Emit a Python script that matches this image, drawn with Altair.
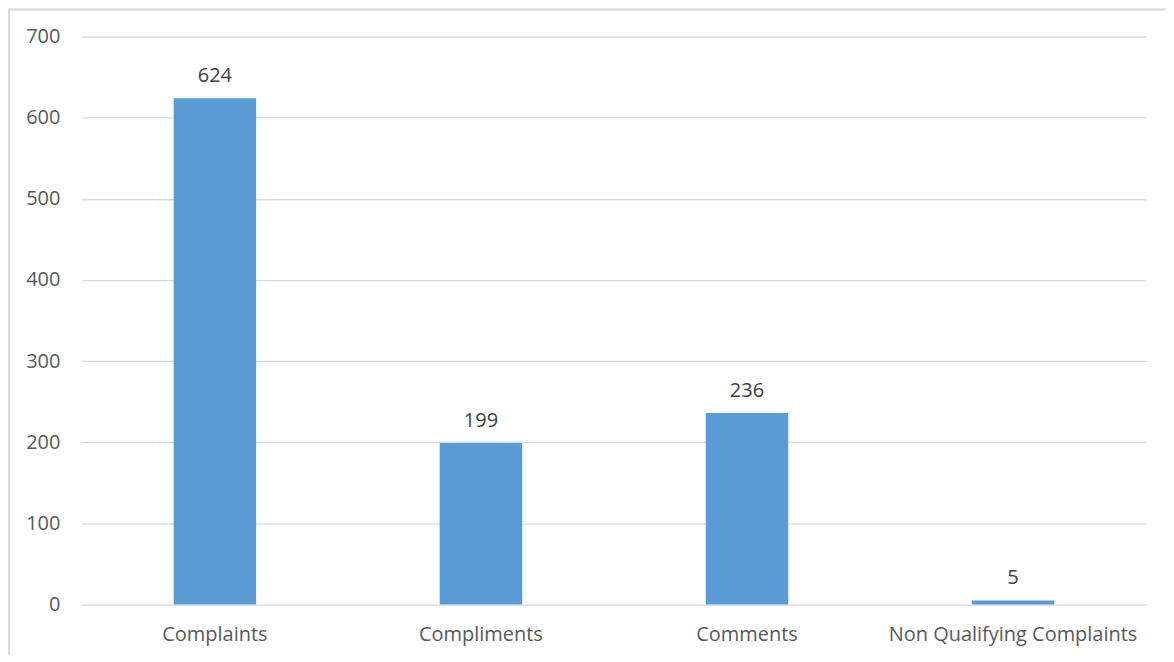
import altair as alt
import pandas as pd

categories = ["Complaints", "Compliments", "Comments", "Non Qualifying Complaints"]
values = [624, 199, 236, 5]

df = pd.DataFrame({"category": categories, "value": values})

FONT = "Open Sans"
TXT = "#595959"

base = alt.Chart(df)

x_enc = alt.X("category:N", sort=categories, title=None,
              scale=alt.Scale(paddingInner=0.69, paddingOuter=0.345),
              axis=alt.Axis(labelAngle=0, labelFont=FONT, labelFontSize=20,
                            labelColor=TXT, ticks=False, domain=False,
                            labelPadding=20, labelLimit=0, labelOverlap=False))
y_enc = alt.Y("value:Q", title=None,
              scale=alt.Scale(domain=[0, 700], nice=False),
              axis=alt.Axis(values=[0, 100, 200, 300, 400, 500, 600, 700],
                            labelFont=FONT, labelFontSize=20, labelColor=TXT,
                            ticks=False, domain=False, labelPadding=22,
                            grid=True, gridColor="#d9d9d9", gridWidth=1.3))

bars = base.mark_bar(color="#5b9bd5").encode(x=x_enc, y=y_enc)

labels = base.mark_text(dy=-22, font=FONT, fontSize=20, color="#404040").encode(
    x=alt.X("category:N", sort=categories),
    y="value:Q",
    text="value:Q",
)

frame = alt.Chart(df).mark_rect(fill=None, stroke="#d9d9d9", strokeWidth=1.5).encode(
    x=alt.value(-73), x2=alt.value(1300), y=alt.value(-27), y2=alt.value(800)
)

chart = alt.layer(frame, bars, labels).properties(
    width=1066, height=569,
    autosize=alt.AutoSizeParams(type="none"),
    padding={"left": 74, "top": 28, "right": 20, "bottom": 50},
    background="white",
).configure_view(stroke=None)

chart.save("out.html", embed_options={"renderer": "svg", "actions": False})
